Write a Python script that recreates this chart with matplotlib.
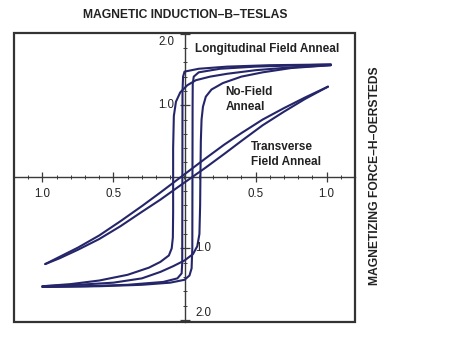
import matplotlib
matplotlib.use("Agg")
import matplotlib.pyplot as plt
from matplotlib.patches import Rectangle
from matplotlib.ticker import FixedLocator, MultipleLocator, FuncFormatter, NullFormatter

plt.rcParams['font.family'] = ['Liberation Sans', 'DejaVu Sans']

# Hysteresis loops: H in oersteds, B in teslas
# Longitudinal field anneal (square loop)
long_up_h = [-1.00, -0.60, -0.30, -0.10, 0.00, 0.035, 0.050, 0.055, 0.056, 0.057, 0.058, 0.065, 0.10, 0.25, 0.50, 0.75, 1.03]
long_up_b = [-1.54, -1.53, -1.51, -1.48, -1.44, -1.38, -1.28, -1.00, 0.00, 1.00, 1.30, 1.40, 1.46, 1.51, 1.54, 1.555, 1.57]
long_dn_h = [1.03, 0.60, 0.30, 0.10, 0.00, -0.010, -0.014, -0.015, -0.016, -0.020, -0.05, -0.15, -0.40, -0.70, -1.00]
long_dn_b = [1.57, 1.56, 1.54, 1.51, 1.47, 1.40, 1.20, 0.00, -1.20, -1.35, -1.42, -1.47, -1.51, -1.53, -1.54]

# No-field anneal
nof_up_h = [-1.00, -0.75, -0.50, -0.30, -0.17, -0.08, 0.00, 0.06, 0.09, 0.105, 0.110, 0.112, 0.115, 0.12, 0.13, 0.15, 0.19, 0.27, 0.40, 0.55, 0.75, 1.03]
nof_up_b = [-1.53, -1.51, -1.48, -1.42, -1.33, -1.25, -1.17, -1.08, -0.97, -0.80, -0.40, 0.00, 0.50, 0.80, 0.98, 1.12, 1.22, 1.31, 1.40, 1.46, 1.52, 1.56]
nof_dn_h = [1.03, 0.75, 0.50, 0.30, 0.18, 0.08, 0.02, -0.03, -0.06, -0.075, -0.080, -0.080, -0.080, -0.082, -0.09, -0.11, -0.17, -0.25, -0.40, -0.60, -0.80, -1.00]
nof_dn_b = [1.56, 1.53, 1.49, 1.44, 1.40, 1.35, 1.28, 1.18, 1.05, 0.85, 0.40, 0.00, -0.50, -0.85, -1.00, -1.10, -1.19, -1.27, -1.37, -1.45, -1.50, -1.53]

# Transverse field anneal (sheared loop)
tr_dn_h = [1.01, 0.85, 0.70, 0.55, 0.40, 0.28, 0.15, 0.05, -0.05, -0.17, -0.30, -0.45, -0.60, -0.75, -0.88, -0.98]
tr_dn_b = [1.26, 1.11, 0.96, 0.80, 0.61, 0.45, 0.26, 0.11, -0.04, -0.22, -0.41, -0.62, -0.82, -0.99, -1.12, -1.22]
tr_up_h = [-0.98, -0.88, -0.75, -0.60, -0.45, -0.30, -0.17, -0.05, 0.05, 0.15, 0.28, 0.40, 0.55, 0.70, 0.85, 1.01]
tr_up_b = [-1.22, -1.14, -1.02, -0.87, -0.69, -0.49, -0.32, -0.15, -0.01, 0.13, 0.32, 0.50, 0.72, 0.91, 1.09, 1.26]

# Axis ticks and labels
h_major = [-1.0, -0.5, 0.5, 1.0]
b_major = [-2.0, -1.0, 1.0, 2.0]
b_labels = ['2.0', '1.0', '1.0', '2.0']

line_color = '#25256a'
axis_color = '#3a3a3a'
text_color = '#222222'

fig = plt.figure(figsize=(4.5, 3.38), dpi=100)
ax = fig.add_axes([14 / 450, 16 / 338, 341 / 450, 289 / 338])
ax.set_xlim(-1.2, 1.2)
ax.set_ylim(-2.03, 2.01)

for h, b in [(long_up_h, long_up_b), (long_dn_h, long_dn_b),
             (nof_up_h, nof_up_b), (nof_dn_h, nof_dn_b),
             (tr_dn_h, tr_dn_b), (tr_up_h, tr_up_b)]:
    ax.plot(h, b, color=line_color, lw=1.5, solid_joinstyle='round',
            solid_capstyle='round', zorder=3)

# Cross-hair axes through the origin
for side in ('top', 'right'):
    ax.spines[side].set_visible(False)
for side in ('left', 'bottom'):
    ax.spines[side].set_position(('data', 0))
    ax.spines[side].set_color(axis_color)
    ax.spines[side].set_linewidth(1.0)

ax.add_patch(Rectangle((0, 0), 1, 1, transform=ax.transAxes, fill=False,
                       edgecolor='#333333', lw=1.6, clip_on=False, zorder=5))

ax.xaxis.set_major_locator(FixedLocator(h_major))
ax.xaxis.set_minor_locator(MultipleLocator(0.1))
ax.yaxis.set_major_locator(FixedLocator(b_major))
ax.yaxis.set_minor_locator(MultipleLocator(0.2))
ax.xaxis.set_major_formatter(FuncFormatter(lambda v, p: f'{abs(v):.1f}'))
ax.yaxis.set_major_formatter(NullFormatter())
ax.tick_params(which='major', direction='inout', length=7, width=0.9, color=axis_color,
               labelsize=8.3, labelcolor=text_color, pad=4.5)
ax.tick_params(which='minor', direction='inout', length=3.5, width=0.7, color=axis_color)

# B labels: positive values left of the axis, negative values right of it
for v, s in zip(b_major, b_labels):
    if v > 0:
        xo, ha = -7.5, 'right'
    else:
        xo, ha = 8, 'left'
    if v == max(b_major):
        va, yo = 'top', -1.5
    elif v == min(b_major):
        va, yo = 'bottom', 0.5
    else:
        va, yo = 'center', 0
    ax.annotate(s, (0, v), xytext=(xo, yo), textcoords='offset points',
                ha=ha, va=va, fontsize=8.3, color=text_color)

ax.text(0.077, 1.78, 'Longitudinal Field Anneal', fontsize=8.5, fontweight='bold',
        color=text_color, ha='left', va='center')
ax.text(0.29, 1.08, 'No-Field\nAnneal', fontsize=8.5, fontweight='bold',
        color=text_color, ha='left', va='center', linespacing=1.4)
ax.text(0.465, 0.31, 'Transverse\nField Anneal', fontsize=8.5, fontweight='bold',
        color=text_color, ha='left', va='center', linespacing=1.4)

fig.text(185 / 450, 1 - 15 / 338, 'MAGNETIC INDUCTION\u2013B\u2013TESLAS', fontsize=8.7,
         fontweight='bold', color=text_color, ha='center', va='center')
fig.text(375 / 450, 1 - 176 / 338, 'MAGNETIZING FORCE\u2013H\u2013OERSTEDS', fontsize=8.7,
         fontweight='bold', color=text_color, ha='center', va='center', rotation=90)

fig.savefig('out.png', dpi=100)
